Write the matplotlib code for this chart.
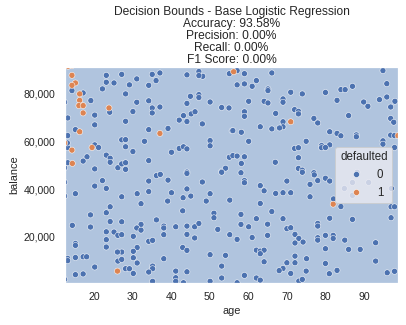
"""
Decision bounds of the base logistic regression on age / balance.

Run:
    python plot.py

Output:
    out.png
"""

import matplotlib
matplotlib.use("Agg")
import matplotlib.pyplot as plt
import numpy as np
import pandas as pd
import seaborn as sns
from matplotlib.colors import ListedColormap
from matplotlib.ticker import FuncFormatter


# customers who did not default (defaulted = 0)
age_0 = [
    14.3, 17.2, 12.4, 19.2, 13.2, 20.2, 20.2, 15.2, 24.1, 23.2, 23.2, 25.2, 27.2, 22.2, 29.2,
    31.1, 28.2, 34.2, 35.1, 37.1, 36.1, 31.1, 34.2, 30.1, 35.1, 35.1, 37.1, 28.2, 34.2, 39.2,
    44.1, 47.2, 48.2, 47.2, 55.1, 45.0, 47.2, 47.2, 44.1, 50.1, 43.2, 42.1, 44.1, 45.2, 46.2,
    48.1, 53.1, 55.0, 55.8, 13.2, 13.2, 13.1, 20.2, 21.2, 27.2, 28.2, 28.2, 30.1, 33.1, 40.1,
    42.1, 43.2, 44.1, 50.1, 50.1, 23.2, 24.2, 18.2, 17.2, 13.2, 12.4, 20.2, 24.2, 26.2, 27.2,
    28.2, 28.2, 34.2, 44.1, 53.1, 54.1, 55.1, 56.0, 12.4,
    57.1, 59.0, 66.1, 94.9, 57.1, 59.0, 61.0, 62.1, 65.1, 65.1, 71.0, 74.0, 80.0, 84.0, 85.1,
    87.0, 95.9, 98.0, 95.9, 94.0, 89.9, 91.0, 96.9, 83.0, 69.0, 69.0, 64.1, 65.1, 60.1, 59.0,
    59.0, 67.1, 72.0, 73.0, 73.0, 77.0, 78.0, 86.0, 96.9, 97.7, 69.0, 69.0, 68.1, 66.1, 63.1,
    56.0, 58.2, 81.1, 83.0, 84.0, 88.0, 88.0, 96.9, 97.9, 60.1, 72.0, 73.0, 75.0, 79.0, 79.0,
    81.1, 80.0, 94.9, 94.9, 97.9, 57.1, 59.0, 67.0, 73.0, 73.0, 74.0, 58.2, 77.0, 88.2,
    12.4, 15.2, 20.2, 22.2, 23.2, 27.2, 31.2, 34.2, 34.2, 32.2, 36.2, 37.2, 39.2, 44.1, 40.1,
    39.1, 44.1, 43.1, 45.1, 48.1, 50.1, 49.1, 53.1, 55.2, 24.2, 23.2, 19.1, 43.0, 36.2, 24.2,
    27.2, 32.2, 31.1, 32.2, 14.4, 19.1, 23.2, 25.2, 26.2, 27.2, 30.2, 23.2, 23.2, 38.1, 38.1,
    38.1, 41.2, 44.1, 46.1, 47.2, 44.1, 46.1, 51.1, 51.1, 52.1, 55.2, 34.2, 35.2, 31.2, 15.2,
    15.2, 27.2, 26.1, 26.2, 27.2, 30.2, 30.2, 31.2, 13.2, 13.2, 15.2, 17.2, 18.1, 20.2, 28.2,
    29.2, 30.2, 35.2, 35.2, 34.2, 38.1, 43.0, 44.1, 50.1, 54.1, 53.1, 41.2, 44.1, 41.2, 41.2,
    43.2, 15.2, 17.2, 12.4, 35.2, 50.1, 53.1,
    58.1, 59.0, 59.0, 63.1, 64.1, 67.1, 69.0, 71.0, 70.0, 74.0, 77.1, 78.0, 80.0, 81.1, 76.0,
    76.0, 63.1, 66.1, 58.1, 62.1, 69.0, 58.1, 60.1, 65.0, 70.0, 71.0, 78.0, 78.0, 81.1, 87.0,
    84.0, 97.0, 97.9, 97.0, 57.1, 61.0, 65.0, 72.1, 73.1, 74.2, 72.1, 78.0, 78.0, 80.0, 82.0,
    82.0, 85.0, 93.0, 62.1, 63.1, 64.1, 63.1, 80.0, 86.0, 89.0, 72.1, 75.1, 64.1, 70.0, 72.1,
    93.0, 75.0, 80.0, 83.0, 69.0, 68.0, 71.0, 59.0, 62.1, 63.1, 73.1, 74.0, 96.0, 97.9, 81.0,
    57.1, 84.9, 87.0, 91.2, 97.1, 87.0, 82.1,
]
balance_0 = [
    81400, 80400, 76500, 77200, 69900, 71100, 67000, 65000, 72300, 87800, 84900, 84600, 88200, 82100, 83800,
    86300, 80000, 83600, 88200, 88800, 85600, 76500, 77100, 72600, 74100, 72000, 74500, 68500, 65000, 65500,
    88000, 89400, 87400, 87700, 88500, 79000, 79700, 78500, 76000, 76600, 70900, 69000, 68400, 71600, 72500,
    67400, 74300, 74100, 64500, 62500, 57500, 59400, 58600, 57500, 60700, 60800, 57800, 55800, 60100, 55500,
    57100, 57800, 56900, 60400, 58200, 54300, 53000, 53600, 51800, 51100, 49000, 48500, 51300, 49000, 50600,
    51100, 48300, 52000, 47200, 47400, 48800, 53400, 54100, 42900,
    89800, 88500, 88800, 89800, 83800, 84200, 83200, 85600, 82100, 81400, 80700, 80000, 80600, 81800, 81800,
    83200, 84300, 76900, 78700, 77600, 76600, 74800, 74500, 77300, 77900, 76500, 76900, 76200, 76900, 72500,
    70600, 71800, 73400, 72700, 71600, 69700, 67800, 70900, 69700, 68100, 68300, 66200, 65700, 65300, 66200,
    64600, 63900, 64100, 63400, 62400, 62800, 62000, 62700, 62500, 60100, 57100, 57400, 60100, 58300, 57400,
    58600, 57500, 60300, 58900, 57500, 53900, 53600, 51300, 53200, 48700, 48000, 50800, 46900, 47100,
    37100, 38100, 41300, 43600, 40300, 36800, 38100, 43400, 39000, 33900, 45700, 46200, 43800, 46600, 38500,
    35000, 40100, 36400, 37100, 43000, 38100, 35000, 47100, 35400, 32600, 30100, 29200, 30900, 27100, 26400,
    26300, 25200, 23700, 22800, 24800, 24100, 22100, 22000, 20600, 20900, 20200, 18800, 15700, 24500, 23700,
    20900, 24200, 24500, 24200, 25600, 21000, 19500, 29900, 28000, 23100, 20900, 18100, 18500, 15500, 17200,
    16400, 13600, 13600, 9800, 10500, 13900, 11200, 9000, 10900, 10000, 11300, 11600, 11600, 7300, 6600,
    6600, 4600, 7700, 6600, 5200, 10800, 15500, 14300, 12500, 12200, 7700, 5600, 5300, 2800, 1300,
    700, 4100, 4400, 2100, 1300, 1300, 2700,
    46900, 43600, 42700, 41500, 39300, 38200, 38500, 38500, 43400, 47100, 46000, 43600, 44600, 43400, 42000,
    36800, 34000, 30600, 29400, 27600, 27600, 25200, 24200, 25300, 23400, 23800, 25600, 24500, 27800, 27300,
    32700, 32600, 32600, 28000, 18900, 19700, 20600, 21000, 19300, 17800, 17400, 19600, 18600, 20600, 20600,
    19300, 18600, 17500, 14400, 14000, 14400, 12900, 15000, 14700, 14700, 11900, 10800, 9500, 9100, 9100,
    9800, 5600, 8800, 5900, 6700, 5800, 4600, 3800, 2700, 1800, 1400, 2100, 4900, 5500, 4500,
    700, 40300, 42800, 42800, 40300, 37400, 35900,
]

# customers who defaulted (defaulted = 1)
age_1 = [13.3, 14.3, 14.3, 15.2, 14.3, 16.3, 16.3, 16.1, 17.2, 17.2, 23.9,
         16.3, 12.4, 14.3, 19.5, 37.1, 14.4, 56.2, 71.0, 98.8, 26.1, 82.0]
balance_1 = [91600, 91900, 87800, 84600, 83600, 80000, 77300, 75100, 75100, 72000, 74100,
             64100, 59400, 56400, 57500, 63400, 50800, 89300, 68300, 62500, 5600, 33700]

metrics = {"Accuracy": 93.58, "Precision": 0.00, "Recall": 0.00, "F1 Score": 0.00}

AGE_LIM = (12.5, 98.8)
BALANCE_LIM = (600, 91300)


def main() -> None:
    sns.set_theme(style="darkgrid")
    plt.rcParams["font.family"] = ["Liberation Sans", "DejaVu Sans"]

    df = pd.DataFrame({
        "age": age_0 + age_1,
        "balance": balance_0 + balance_1,
        "defaulted": [0] * len(age_0) + [1] * len(age_1),
    })

    fig = plt.figure(figsize=(406 / 72, 325 / 72), dpi=72)
    ax = fig.add_axes([65 / 406, 1 - 283 / 325, 333 / 406, 216 / 325])

    # the base model predicts "no default" everywhere on the grid
    xx, yy = np.meshgrid(np.linspace(*AGE_LIM, 200), np.linspace(*BALANCE_LIM, 200))
    zz = np.zeros_like(xx)
    ax.pcolormesh(xx, yy, zz, cmap=ListedColormap(["lightsteelblue", "peachpuff"]),
                  vmin=0, vmax=1, shading="auto")

    sns.scatterplot(data=df, x="age", y="balance", hue="defaulted", ax=ax,
                    s=36, edgecolor="white", linewidth=0.5)

    ax.set_xlim(*AGE_LIM)
    ax.set_ylim(*BALANCE_LIM)
    ax.set_xticks(range(20, 100, 10))
    ax.set_yticks(range(20000, 90000, 20000))
    ax.yaxis.set_major_formatter(FuncFormatter(lambda v, _: f"{v:,.0f}"))
    ax.tick_params(labelsize=10.5)
    ax.set_xlabel("age", fontsize=11)
    ax.set_ylabel("balance", fontsize=11)

    title = "Decision Bounds - Base Logistic Regression\n" + "\n".join(
        f"{k}: {v:.2f}%" for k, v in metrics.items()
    )
    ax.set_title(title, fontsize=12, linespacing=1.0, pad=4)

    ax.legend(title="defaulted", loc="center right", fontsize=11.5, title_fontsize=11.5)

    fig.savefig("out.png", dpi=72)
    plt.close(fig)


if __name__ == "__main__":
    main()
